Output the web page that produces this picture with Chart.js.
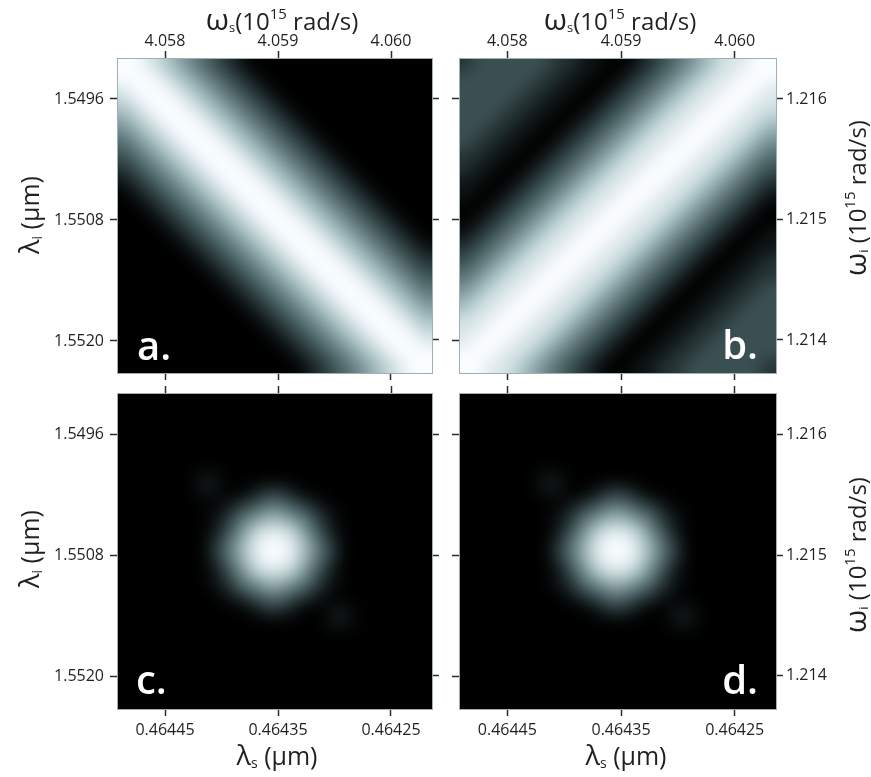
<!DOCTYPE html>
<html>
<head>
<meta charset="utf-8">
<script src="https://cdn.jsdelivr.net/npm/chart.js@4.4.1/dist/chart.umd.min.js"></script>
<style>
  html, body { margin: 0; padding: 0; background: #fff; }
  #wrap { position: relative; width: 871px; height: 777px; }
  #wrap canvas { position: absolute; left: 0; top: 0; }
</style>
</head>
<body>
<div id="wrap">
  <canvas id="panelA" width="871" height="777"></canvas>
  <canvas id="panelB" width="871" height="777"></canvas>
  <canvas id="panelC" width="871" height="777"></canvas>
  <canvas id="panelD" width="871" height="777"></canvas>
</div>
<script>
// tick values and their labels
const omegaSTicks = [4.058, 4.059, 4.060];
const omegaSLabels = ['4.058', '4.059', '4.060'];
const lambdaSTicks = [0.46445, 0.46435, 0.46425];
const lambdaSLabels = ['0.46445', '0.46435', '0.46425'];
const lambdaITicks = [1.5496, 1.5508, 1.5520];
const lambdaILabels = ['1.5496', '1.5508', '1.5520'];
const omegaITicks = [1.216, 1.215, 1.214];
const omegaILabels = ['1.216', '1.215', '1.214'];

const omegaSRange = [4.0575752, 4.0603628];
const lambdaSRange = [0.4642137, 0.4644925];
const lambdaIRange = [1.5491934, 1.5523174];
const omegaIRange = [1.2137261, 1.2163402];

// intensity grids, 0 = black .. 9 = white, row 0 at the top, column 0 at the left
const gridA = [
  '998765432100000000000000',
  '999876543210000000000000',
  '899987654321000000000000',
  '789998765432100000000000',
  '678999876543210000000000',
  '567899987654321000000000',
  '456789998765432100000000',
  '345678999876543210000000',
  '234567899987654321000000',
  '123456789998765432100000',
  '012345678999876543210000',
  '001234567899987654321000',
  '000123456789998765432100',
  '000012345678999876543210',
  '000001234567899987654321',
  '000000123456789998765432',
  '000000012345678999876543',
  '000000001234567899987654',
  '000000000123456789998765',
  '000000000012345678999876',
  '000000000001234567899987',
  '000000000000123456789998',
  '000000000000012345678999',
  '000000000000001234567899'
];
const gridB = [
  '233333322110012345678899',
  '333333221100123456788999',
  '333332211001234567889998',
  '333322110012345678899988',
  '333221100123456788999887',
  '332211001234567889998876',
  '322110012345678899988765',
  '221100123456788999887654',
  '211001234567889998876543',
  '110012345678899988765432',
  '100123456788999887654321',
  '001234567889998876543210',
  '012345678899988765432100',
  '123456788999887654321001',
  '234567889998876543210011',
  '345678899988765432100112',
  '456788999887654321001122',
  '567889998876543210011223',
  '678899988765432100112233',
  '788999887654321001122333',
  '889998876543210011223333',
  '899988765432100112233333',
  '999887654321001122333333',
  '998876543210011223333332'
];
const gridC = [
  '000000000000000000000000',
  '000000000000000000000000',
  '000000000000000000000000',
  '000000000000000000000000',
  '000000000000000000000000',
  '000000000000000000000000',
  '000000110000000000000000',
  '000000110012210000000000',
  '000000001234432100000000',
  '000000012456654210000000',
  '000000013578875310000000',
  '000000024689986420000000',
  '000000024689986420000000',
  '000000013578875310000000',
  '000000012456654210000000',
  '000000001234432100000000',
  '000000000012210011000000',
  '000000000000000011000000',
  '000000000000000000000000',
  '000000000000000000000000',
  '000000000000000000000000',
  '000000000000000000000000',
  '000000000000000000000000',
  '000000000000000000000000'
];
const gridD = [
  '000000000000000000000000',
  '000000000000000000000000',
  '000000000000000000000000',
  '000000000000000000000000',
  '000000000000000000000000',
  '000000000000000000000000',
  '000000110000000000000000',
  '000000110012210000000000',
  '000000001234432100000000',
  '000000012456654210000000',
  '000000013578875310000000',
  '000000024689986420000000',
  '000000024689986420000000',
  '000000013578875310000000',
  '000000012456654210000000',
  '000000001234432100000000',
  '000000000012210011000000',
  '000000000000000011000000',
  '000000000000000000000000',
  '000000000000000000000000',
  '000000000000000000000000',
  '000000000000000000000000',
  '000000000000000000000000',
  '000000000000000000000000'
];

const W = 871, H = 777;
const FONT = '"Open Sans", "DejaVu Sans", sans-serif';
const TEXT = '#231f20';

Chart.defaults.font.family = FONT;

// bone-like colour map (black -> teal grey -> white)
const cmapStops = [
  [0.00, 0, 0, 0],
  [0.11, 14, 20, 21],
  [0.33, 57, 78, 81],
  [0.55, 112, 138, 141],
  [0.78, 188, 210, 214],
  [1.00, 250, 253, 255]
];
function cmap(t) {
  for (let i = 1; i < cmapStops.length; i++) {
    const a = cmapStops[i - 1], b = cmapStops[i];
    if (t <= b[0]) {
      const f = (t - a[0]) / (b[0] - a[0]);
      const c = [1, 2, 3].map(k => Math.round(a[k] + f * (b[k] - a[k])));
      return `rgb(${c[0]},${c[1]},${c[2]})`;
    }
  }
  return 'rgb(250,253,255)';
}

// cell centres on the omega_s / lambda_i scales
function gridPoints(grid) {
  const rows = grid.length, cols = grid[0].length;
  const pts = [];
  for (let r = 0; r < rows; r++) {
    for (let c = 0; c < cols; c++) {
      pts.push({
        x: omegaSRange[0] + (c + 0.5) * (omegaSRange[1] - omegaSRange[0]) / cols,
        y: lambdaIRange[0] + (r + 0.5) * (lambdaIRange[1] - lambdaIRange[0]) / rows,
        v: Number(grid[r][c])
      });
    }
  }
  return pts;
}

// axis titles with sub/superscripts: [text, size, dy]
const titleParts = {
  omegaS: [['ω', 30, 0], ['s', 13, 2], ['(10', 24, 0], ['15', 15, -11], [' rad/s)', 24, 0]],
  omegaI: [['ω', 30, 0], ['i', 13, 2], [' (10', 24, 0], ['15', 15, -11], [' rad/s)', 24, 0]],
  lambdaS: [['λ', 27, 0], ['s', 14, 3], [' (μm)', 25, 0]],
  lambdaI: [['λ', 27, 0], ['i', 14, 3], [' (μm)', 25, 0]]
};

function drawRich(ctx, parts, x, y, rot) {
  ctx.save();
  ctx.translate(x, y);
  ctx.rotate(rot * Math.PI / 180);
  ctx.fillStyle = TEXT;
  ctx.textBaseline = 'alphabetic';
  ctx.textAlign = 'left';
  let total = 0;
  parts.forEach(p => { ctx.font = `${p[1]}px ${FONT}`; total += ctx.measureText(p[0]).width; });
  let cx = -total / 2;
  parts.forEach(p => {
    ctx.font = `${p[1]}px ${FONT}`;
    ctx.fillText(p[0], cx, p[2]);
    cx += ctx.measureText(p[0]).width;
  });
  ctx.restore();
}

// black backdrop, then a soft resample of the drawn cells
const heatBlur = {
  id: 'heatBlur',
  beforeDatasetsDraw(chart) {
    const {ctx, chartArea: a} = chart;
    ctx.save();
    ctx.fillStyle = '#000';
    ctx.fillRect(a.left, a.top, a.right - a.left, a.bottom - a.top);
    ctx.restore();
  },
  afterDatasetsDraw(chart, args, opts) {
    const {ctx, chartArea: a, canvas} = chart;
    const l = Math.round(a.left), t = Math.round(a.top);
    const w = Math.round(a.right) - l, h = Math.round(a.bottom) - t;
    const pad = 30;
    const off = document.createElement('canvas');
    off.width = w + 2 * pad;
    off.height = h + 2 * pad;
    const o = off.getContext('2d');
    o.drawImage(canvas, l, t, w, h, pad, pad, w, h);
    o.drawImage(canvas, l, t, w, 1, pad, 0, w, pad);
    o.drawImage(canvas, l, t + h - 1, w, 1, pad, pad + h, w, pad);
    o.drawImage(canvas, l, t, 1, h, 0, pad, pad, h);
    o.drawImage(canvas, l + w - 1, t, 1, h, pad + w, pad, pad, h);
    o.drawImage(canvas, l, t, 1, 1, 0, 0, pad, pad);
    o.drawImage(canvas, l + w - 1, t, 1, 1, pad + w, 0, pad, pad);
    o.drawImage(canvas, l, t + h - 1, 1, 1, 0, pad + h, pad, pad);
    o.drawImage(canvas, l + w - 1, t + h - 1, 1, 1, pad + w, pad + h, pad, pad);
    ctx.save();
    ctx.beginPath();
    ctx.rect(l, t, w, h);
    ctx.clip();
    ctx.filter = `blur(${opts.radius}px)`;
    ctx.drawImage(off, l - pad, t - pad);
    ctx.restore();
  }
};

// panel letter and axis titles
const panelText = {
  id: 'panelText',
  afterDraw(chart, args, opts) {
    const ctx = chart.ctx;
    ctx.save();
    ctx.fillStyle = '#fff';
    ctx.font = `600 40px ${FONT}`;
    ctx.textAlign = opts.tagAlign;
    ctx.textBaseline = 'alphabetic';
    ctx.fillText(opts.tag, opts.tagX, opts.tagY);
    ctx.restore();
    opts.titles.forEach(tt => drawRich(ctx, titleParts[tt.kind], tt.x, tt.y, tt.rot));
  }
};

function axis(position, range, ticks, labels, show, reverse, box, pad) {
  const vertical = position === 'left' || position === 'right';
  return {
    type: 'linear',
    axis: vertical ? 'y' : 'x',
    position,
    min: range[0],
    max: range[1],
    reverse,
    afterBuildTicks: s => { s.ticks = ticks.map(v => ({value: v})); },
    afterFit: s => {
      if (position === 'left') s.width = box.left;
      if (position === 'right') s.width = W - box.right;
      if (position === 'top') s.height = box.top;
      if (position === 'bottom') s.height = H - box.bottom;
      s.paddingLeft = s.paddingRight = s.paddingTop = s.paddingBottom = 0;
    },
    ticks: {
      display: show,
      callback: (v, i) => labels[i],
      font: {family: FONT, size: 16},
      color: TEXT,
      padding: pad,
      autoSkip: false,
      maxRotation: 0
    },
    grid: {
      display: true,
      drawOnChartArea: false,
      drawTicks: true,
      tickLength: 7,
      tickWidth: 1.5,
      tickColor: '#2b2b2b'
    },
    border: {display: true, color: '#9fb0b4', width: 1, z: 1},
    title: {display: false}
  };
}

const panels = [
  {id: 'panelA', grid: gridA, box: {left: 117, top: 58, right: 432, bottom: 373},
   show: {top: true, bottom: false, left: true, right: false},
   tag: 'a.', tagAlign: 'left', tagX: 137, tagY: 360,
   titles: [{kind: 'omegaS', x: 282, y: 30, rot: 0}, {kind: 'lambdaI', x: 39, y: 215, rot: -90}]},
  {id: 'panelB', grid: gridB, box: {left: 459, top: 58, right: 776, bottom: 373},
   show: {top: true, bottom: false, left: false, right: true},
   tag: 'b.', tagAlign: 'right', tagX: 758, tagY: 359,
   titles: [{kind: 'omegaS', x: 620, y: 30, rot: 0}, {kind: 'omegaI', x: 866, y: 198, rot: -90}]},
  {id: 'panelC', grid: gridC, box: {left: 117, top: 393, right: 432, bottom: 709},
   show: {top: false, bottom: true, left: true, right: false},
   tag: 'c.', tagAlign: 'left', tagX: 136, tagY: 694,
   titles: [{kind: 'lambdaS', x: 277, y: 765, rot: 0}, {kind: 'lambdaI', x: 39, y: 549, rot: -90}]},
  {id: 'panelD', grid: gridD, box: {left: 459, top: 393, right: 776, bottom: 709},
   show: {top: false, bottom: true, left: false, right: true},
   tag: 'd.', tagAlign: 'right', tagX: 758, tagY: 694,
   titles: [{kind: 'lambdaS', x: 626, y: 765, rot: 0}, {kind: 'omegaI', x: 866, y: 555, rot: -90}]}
];

panels.forEach(p => {
  new Chart(document.getElementById(p.id), {
    type: 'scatter',
    data: {
      datasets: [{
        data: gridPoints(p.grid),
        xAxisID: 'xTop',
        yAxisID: 'yLeft',
        pointStyle: 'rect',
        pointRadius: ctx => {
          const a = ctx.chart.chartArea;
          return a ? (a.width / p.grid[0].length + 1.2) / Math.SQRT2 : 10;
        },
        pointHoverRadius: 0,
        borderWidth: 0,
        backgroundColor: ctx => cmap(ctx.raw.v / 9),
        clip: 0
      }]
    },
    options: {
      responsive: false,
      animation: false,
      events: [],
      layout: {padding: 0},
      plugins: {
        legend: {display: false},
        tooltip: {enabled: false},
        heatBlur: {radius: 7.5},
        panelText: {tag: p.tag, tagAlign: p.tagAlign, tagX: p.tagX, tagY: p.tagY, titles: p.titles}
      },
      scales: {
        xTop: axis('top', omegaSRange, omegaSTicks, omegaSLabels, p.show.top, false, p.box, 0),
        xBottom: axis('bottom', lambdaSRange, lambdaSTicks, lambdaSLabels, p.show.bottom, true, p.box, 5),
        yLeft: axis('left', lambdaIRange, lambdaITicks, lambdaILabels, p.show.left, true, p.box, 6),
        yRight: axis('right', omegaIRange, omegaITicks, omegaILabels, p.show.right, false, p.box, 3)
      }
    },
    plugins: [heatBlur, panelText]
  });
});
</script>
</body>
</html>
